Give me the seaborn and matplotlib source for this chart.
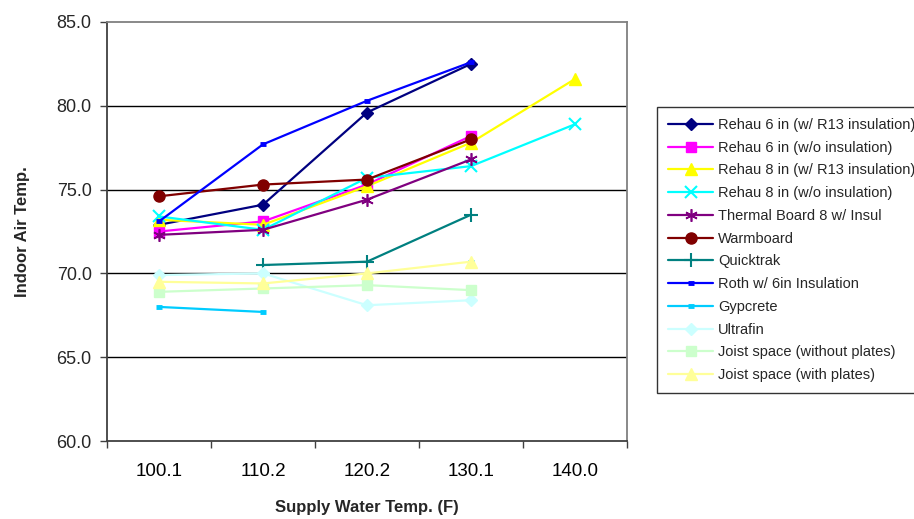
import numpy as np
import matplotlib
matplotlib.use('Agg')
import matplotlib.pyplot as plt
import seaborn as sns

# ── Data ────────────────────────────────────────────────────────────────────
supply_temps = ['100.1', '110.2', '120.2', '130.1', '140.0']
nan = np.nan

rehau6_r13   = [72.9, 74.1, 79.6, 82.5, nan]
rehau6_none  = [72.5, 73.1, 75.3, 78.2, nan]
rehau8_r13   = [73.2, 72.9, 75.2, 77.8, 81.6]
rehau8_none  = [73.4, 72.6, 75.7, 76.4, 78.9]
thermal8     = [72.3, 72.6, 74.4, 76.8, nan]
warmboard    = [74.6, 75.3, 75.6, 78.0, nan]
quicktrak    = [nan, 70.5, 70.7, 73.5, nan]
roth6        = [73.1, 77.7, 80.3, 82.6, nan]
gypcrete     = [68.0, 67.7, nan, 70.7, nan]
ultrafin     = [69.9, 70.0, 68.1, 68.4, nan]
joist_nopl   = [68.9, 69.1, 69.3, 69.0, nan]
joist_pl     = [69.5, 69.4, 70.0, 70.7, nan]

series_names = [
    'Rehau 6 in (w/ R13 insulation)', 'Rehau 6 in (w/o insulation)',
    'Rehau 8 in (w/ R13 insulation)', 'Rehau 8 in (w/o insulation)',
    'Thermal Board 8 w/ Insul', 'Warmboard', 'Quicktrak',
    'Roth w/ 6in Insulation', 'Gypcrete', 'Ultrafin',
    'Joist space (without plates)', 'Joist space (with plates)',
]
series_values = [rehau6_r13, rehau6_none, rehau8_r13, rehau8_none, thermal8,
                 warmboard, quicktrak, roth6, gypcrete, ultrafin,
                 joist_nopl, joist_pl]

# colour, marker, marker size, marker edge width
styles = [
    ('#000080', 'D', 6, 1.0),
    ('#FF00FF', 's', 7, 1.0),
    ('#FFFF00', '^', 8, 1.0),
    ('#00FFFF', 'x', 8, 1.5),
    ('#800080', (6, 2, 0), 9, 1.2),
    ('#800000', 'o', 8, 1.0),
    ('#008080', '+', 10, 1.5),
    ('#0000FF', '_', 5, 3.5),
    ('#00CCFF', '_', 5, 3.5),
    ('#CCFFFF', 'D', 6, 1.0),
    ('#CCFFCC', 's', 7, 1.0),
    ('#FFFF99', '^', 8, 1.0),
]

# ── Plot ────────────────────────────────────────────────────────────────────
sns.set_style('white')
plt.rcParams['font.family'] = ['Liberation Sans', 'DejaVu Sans']

fig = plt.figure(figsize=(9.14, 5.19), dpi=100)
ax = fig.add_axes([107/914, 1 - 441/519, 520/914, 419/519])

idx = np.arange(len(supply_temps))
handles = []
for name, vals, (col, mk, ms, mew) in zip(series_names, series_values, styles):
    vals = np.array(vals, dtype=float)
    ok = ~np.isnan(vals)
    # split into contiguous runs so gaps are not bridged
    runs, cur = [], []
    for i in idx:
        if ok[i]:
            cur.append(i)
        elif cur:
            runs.append(cur); cur = []
    if cur:
        runs.append(cur)
    for run in runs:
        sns.lineplot(x=idx[run], y=vals[run], ax=ax, color=col, marker=mk,
                     markersize=ms, markeredgewidth=mew, markeredgecolor=col,
                     markerfacecolor=col, linewidth=1.6, legend=False,
                     zorder=3)
    handles.append(plt.Line2D([], [], color=col, marker=mk, markersize=ms,
                              markeredgewidth=mew, markeredgecolor=col,
                              markerfacecolor=col, linewidth=1.6))

ax.set_xlim(-0.5, len(supply_temps) - 0.5)
ax.set_ylim(60, 85)
ax.set_yticks(np.arange(60, 85.1, 5))
ax.set_yticklabels([f'{v:.1f}' for v in np.arange(60, 85.1, 5)])
ax.set_xticks(idx)
ax.set_xticklabels(supply_temps)
ax.set_xticks(np.arange(-0.5, len(supply_temps)), minor=True)

ax.tick_params(axis='x', which='major', length=0, pad=16, labelsize=13.5,
               colors='black')
ax.tick_params(axis='x', which='minor', length=5, width=1, direction='out',
               color='#404040', bottom=True)
ax.tick_params(axis='y', length=5, width=1, direction='out', pad=6,
               labelsize=13, color='#404040', left=True)

for y in [65, 70, 75, 80]:
    ax.axhline(y, color='black', lw=1, zorder=1)

for side in ['left', 'bottom']:
    ax.spines[side].set_color('#404040')
    ax.spines[side].set_linewidth(1.3)
for side in ['top', 'right']:
    ax.spines[side].set_visible(True)
    ax.spines[side].set_color('#808080')
    ax.spines[side].set_linewidth(1.3)

ax.set_ylabel('Indoor Air Temp.', fontsize=12, fontweight='bold')
ax.set_xlabel('Supply Water Temp. (F)', fontsize=12, fontweight='bold')
ax.yaxis.set_label_coords(-0.148, 0.5)
ax.xaxis.set_label_coords(0.5, -0.141)

leg = fig.legend(handles, series_names, loc='upper left',
                 bbox_to_anchor=(657/914, 1 - 107/519),
                 prop={'size': 10.5},
                 frameon=True, fancybox=False, edgecolor='black',
                 handlelength=3.1, handletextpad=0.35, labelspacing=0.6,
                 borderpad=0.75, borderaxespad=0)
leg.get_frame().set_linewidth(1.0)

fig.savefig('out.png', dpi=100)
